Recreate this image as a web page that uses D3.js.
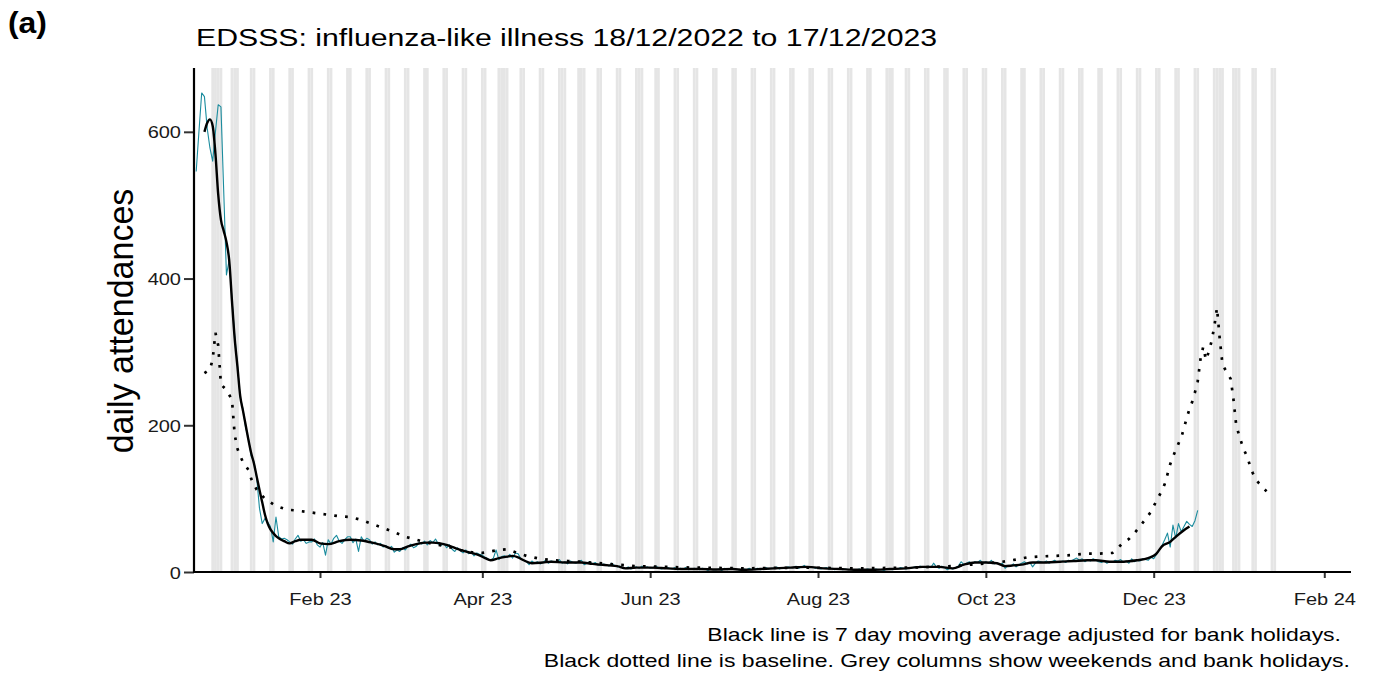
<!DOCTYPE html>
<html>
<head>
<meta charset="utf-8">
<script src="https://cdn.jsdelivr.net/npm/d3@7"></script>
<style>
    body { margin: 0; background: #fff; }
    text { font-family: "Liberation Sans", Arial, sans-serif; }
</style>
</head>
<body>
<svg id="chart" width="1375" height="675"></svg>
<script>
// daily counts start on this date
var startDate = "2022-12-18";

// daily attendances (teal line), 18/12/2022 .. 17/12/2023
var rawValues = [
    546,600,653,648,605,578,560,
    600,637,634,520,405,425,372,
    322,282,238,222,196,182,158,
    150,128,87,66,73,68,62,
    41,75,48,45,46,44,41,
    38,45,50,42,44,39,41,
    41,45,37,34,40,23,44,
    38,46,50,42,39,44,48,
    48,40,45,28,48,42,46,
    44,38,41,37,39,34,36,
    32,35,27,30,28,33,30,
    35,38,33,35,40,38,42,
    37,43,40,45,38,36,39,
    33,37,31,28,33,29,26,
    30,25,27,22,26,24,23,
    20,18,16,19,30,17,21,
    22,20,24,19,26,25,18,
    16,14,10,15,12,14,11,
    13,16,12,15,14,13,17,
    12,14,11,15,13,12,14,
    16,10,12,14,11,13,10,
    9,11,10,8,12,9,7,
    8,6,5,7,4,6,7,
    5,8,6,7,5,6,8,
    6,4,5,7,5,4,6,
    3,5,4,6,3,4,5,
    4,3,5,4,2,4,3,
    3,4,2,5,3,4,5,
    4,3,2,4,3,5,3,
    4,5,3,4,6,4,5,
    5,7,4,6,5,7,6,
    6,8,5,7,9,6,7,
    7,5,6,4,5,6,4,
    5,3,4,5,3,4,3,
    4,2,3,4,2,3,4,
    3,2,4,3,3,2,4,
    4,3,5,4,6,5,4,
    6,5,7,6,8,7,6,
    8,6,12,7,5,8,6,
    3,5,4,6,8,14,10,
    12,14,11,14,13,16,12,
    14,12,16,11,13,10,12,
    5,9,8,11,7,10,12,
    14,11,13,7,12,15,14,
    13,15,12,14,16,13,14,
    15,13,16,15,17,19,16,
    18,14,17,15,18,16,14,
    13,15,12,14,13,16,15,
    17,13,15,12,18,14,16,
    15,18,17,16,20,18,24,
    30,36,44,53,34,64,46,
    66,55,62,69,65,62,70,
    84
];

// 7 day moving average (black line): day offset from startDate, value
var maDays = [3,4,5,6,7,8,9,10,11,12,13,14,15,16,17,18,19,20,21,22,23,24,25,26,27,28,29,30,
    32,34,36,38,42,45,48,52,56,60,64,68,72,74,77,80,84,86,91,94,97,100,
    102,105,107,110,113,115,117,119,122,126,129,134,140,144,147,150,153,156,160,165,
    171,177,183,189,195,199,205,210,216,222,228,234,240,246,252,258,264,270,275,279,
    283,287,291,294,297,300,304,309,314,319,324,327,332,337,342,346,348,349,351,354,
    356,359,361];
var maValues = [600,612,617,608,570,515,480,465,450,425,370,318,280,240,220,200,180,162,148,130,112,95,78,66,58,53,49,46,
    42,39,42,44,44,39,38,42,44,43,40,36,31,31,35,38,40,40,37,33,29,26,
    24,19,16,19,21,22,20,16,12,13,14,13,13,11,10,9,8,5,6,6,
    5,4,4,3.5,4,3,4,5,6,7,5,4,3,3,4,5,7,7,5,10,
    13,13,12,8,9,10,13,13,14,15,16,16,14,14,16,19,22,25,35,41,
    48,57,62];

// baseline (dotted line): day offset from startDate, value
var baseDays = [3,5,6,7,8,9,11,13,14,15,16,17,19,20,22,25,29,33,36,40,
    44,48,52,56,60,65,68,72,76,80,84,88,92,96,100,104,107,110,113,116,
    120,125,130,135,140,150,160,170,180,200,220,240,260,275,285,293,298,302,306,312,
    318,323,328,333,335,337,339,341,343,345,347,349,351,352,353,354,355,356,357,358,
    359,360,361,362,363,364,365,366,367,368,369,370,371,372,373,374,375,376,377,378,
    379,380,381,382,383,384,385,386,387,388,389];
var baseValues = [271,276,290,326,309,256,248,235,187,168,158,150,139,127,112,100,90,85,84,82,
    80,78,76,75,71,64,60,54,48,44,40,37,34,30,27,26,28,30,31,27,
    22,18,16,15,14,11,8,7,6,5,6,5,6,8,11,14,17,20,21,22,
    23,25,25,26,33,40,45,53,62,72,82,97,111,120,133,147,157,166,175,183,
    196,210,222,232,245,260,290,307,289,300,314,334,360,318,283,276,270,263,235,200,
    187,175,165,157,145,135,127,122,118,114,110];

// grey columns: weekends between these dates plus bank holidays
var shadeFrom = "2022-12-24";
var shadeTo = "2024-01-14";
var bankHolidays = ["2022-12-26","2022-12-27","2023-01-02","2023-04-07","2023-04-10",
    "2023-05-01","2023-05-08","2023-05-29","2023-08-28","2023-12-25","2023-12-26","2024-01-01"];

var xTickDates = ["2023-02-01","2023-04-01","2023-06-01","2023-08-01","2023-10-01","2023-12-01","2024-02-01"];
var yTickValues = [0, 200, 400, 600];

var titleText = "EDSSS: influenza-like illness 18/12/2022 to 17/12/2023";
var yLabel = "daily attendances";
var captionLines = ["Black line is 7 day moving average adjusted for bank holidays.",
    "Black dotted line is baseline. Grey columns show weekends and bank holidays."];

var parse = d3.timeParse("%Y-%m-%d");
var start = parse(startDate);
var sx = 1.25; // text in the original is a little stretched sideways

var svg = d3.select("#chart");
var plotLeft = 194, plotRight = 1351, plotTop = 68, plotBottom = 572;

var x = d3.scaleTime()
    .domain([new Date(2022, 11, 17, 5), new Date(2024, 1, 10, 17)])
    .range([plotLeft, plotRight]);
var y = d3.scaleLinear()
    .domain([0, 687])
    .range([plotBottom, plotTop]);

// Grey columns
var fmtDay = d3.timeFormat("%Y-%m-%d");
var shadeDays = d3.timeDay.range(parse(shadeFrom), d3.timeDay.offset(parse(shadeTo), 1))
    .filter(d => d.getDay() == 0 || d.getDay() == 6 || bankHolidays.indexOf(fmtDay(d)) >= 0);

svg.append("g")
    .selectAll("rect")
    .data(shadeDays)
    .join("rect")
        .attr("x", d => x(d3.timeHour.offset(d, -12)))
        .attr("width", d => x(d3.timeHour.offset(d, 12)) - x(d3.timeHour.offset(d, -12)))
        .attr("y", plotTop)
        .attr("height", plotBottom - plotTop)
        .attr("fill", "#e5e5e5");

// Series
var raw = rawValues.map((v, i) => ({ date: d3.timeDay.offset(start, i), v: v }));
var ma = maDays.map((d, i) => ({ date: d3.timeDay.offset(start, d), v: maValues[i] }));
var base = baseDays.map((d, i) => ({ date: d3.timeDay.offset(start, d), v: baseValues[i] }));

var line = d3.line().x(d => x(d.date)).y(d => y(d.v));

svg.append("path")
    .datum(raw)
    .attr("fill", "none")
    .attr("stroke", "#1b8c9e")
    .attr("stroke-width", 1.1)
    .attr("stroke-linejoin", "round")
    .attr("d", line);

svg.append("path")
    .datum(ma)
    .attr("fill", "none")
    .attr("stroke", "#000")
    .attr("stroke-width", 2.4)
    .attr("stroke-linejoin", "round")
    .attr("d", line.curve(d3.curveMonotoneX));

svg.append("path")
    .datum(base)
    .attr("fill", "none")
    .attr("stroke", "#000")
    .attr("stroke-width", 2.7)
    .attr("stroke-dasharray", "2.7,8.2")
    .attr("d", line.curve(d3.curveLinear));

// Axes
var xAxis = svg.append("g")
    .attr("transform", `translate(0,${plotBottom})`)
    .call(d3.axisBottom(x)
        .tickValues(xTickDates.map(parse))
        .tickFormat(d3.timeFormat("%b %y"))
        .tickSize(6)
        .tickPadding(0));
xAxis.select(".domain").remove();
xAxis.selectAll(".tick line").attr("stroke", "#333").attr("stroke-width", 2);
xAxis.selectAll(".tick text")
    .attr("y", 0).attr("dy", 0)
    .attr("transform", `translate(0,33) scale(${sx},1)`)
    .attr("font-size", 16)
    .attr("fill", "#1a1a1a");

var yAxis = svg.append("g")
    .attr("transform", `translate(${plotLeft},0)`)
    .call(d3.axisLeft(y)
        .tickValues(yTickValues)
        .tickSize(10)
        .tickPadding(0));
yAxis.select(".domain").remove();
yAxis.selectAll(".tick line").attr("stroke", "#333").attr("stroke-width", 2);
yAxis.selectAll(".tick text")
    .attr("x", 0).attr("dy", 0)
    .attr("transform", `translate(-13,6) scale(${sx},1)`)
    .attr("font-size", 16)
    .attr("fill", "#1a1a1a");

svg.append("line")
    .attr("x1", plotLeft - 1).attr("x2", plotRight)
    .attr("y1", plotBottom).attr("y2", plotBottom)
    .attr("stroke", "#000").attr("stroke-width", 2.2);
svg.append("line")
    .attr("x1", plotLeft).attr("x2", plotLeft)
    .attr("y1", plotTop).attr("y2", plotBottom + 1)
    .attr("stroke", "#000").attr("stroke-width", 2.2);

// Labels
svg.append("text")
    .attr("transform", `translate(8,33) scale(1.1,1)`)
    .attr("font-size", 29)
    .attr("font-weight", "bold")
    .text("(a)");

svg.append("text")
    .attr("transform", `translate(196,46) scale(${sx},1)`)
    .attr("font-size", 24.2)
    .text(titleText);

svg.append("text")
    .attr("transform", `translate(133,321) scale(1.05,1) rotate(-90)`)
    .attr("text-anchor", "middle")
    .attr("font-size", 34)
    .text(yLabel);

captionLines.forEach((t, i) => {
    svg.append("text")
        .attr("transform", `translate(${i == 0 ? 1341 : 1350},${641 + i * 26}) scale(${sx},1)`)
        .attr("text-anchor", "end")
        .attr("font-size", 18.4)
        .text(t);
});
</script>
</body>
</html>
